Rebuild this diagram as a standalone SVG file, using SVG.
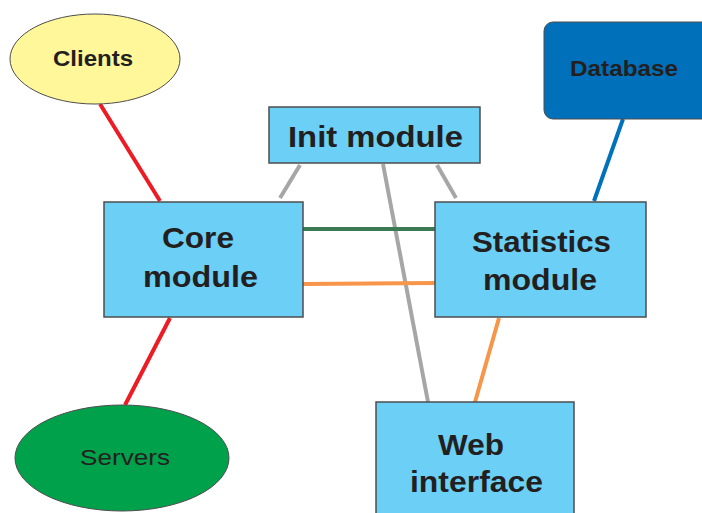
<svg xmlns="http://www.w3.org/2000/svg" width="702" height="513" viewBox="0 0 702 513">
<style>
.box{fill:#6bcff6;stroke:#4d4d4f;stroke-width:1.5}
.t{font-family:"Liberation Sans",Arial,sans-serif;fill:#231f20;text-anchor:middle}
.big{font-size:30px;font-weight:bold}
.sm{font-size:22px}
.c{fill:none;stroke-width:4}
</style>
<rect width="702" height="513" fill="#ffffff"/>
<g id="connectors">
<line class="c" x1="100" y1="104" x2="160" y2="201" stroke="#ed1c24"/>
<line class="c" x1="170" y1="318" x2="125" y2="405" stroke="#ed1c24"/>
<line class="c" x1="300" y1="165" x2="280" y2="198" stroke="#a6a6a6" stroke-width="3"/>
<line class="c" x1="383" y1="164" x2="428" y2="402" stroke="#a6a6a6" stroke-width="3"/>
<line class="c" x1="437" y1="165" x2="456" y2="198" stroke="#a6a6a6" stroke-width="3"/>
<line class="c" x1="303" y1="229" x2="435" y2="229" stroke="#3a7a55"/>
<line class="c" x1="303" y1="284" x2="435" y2="283" stroke="#f7964a"/>
<line class="c" x1="499" y1="318" x2="475" y2="402" stroke="#f7964a"/>
<line class="c" x1="623" y1="119" x2="594" y2="201" stroke="#0072bc"/>
</g>
<g id="clients">
<ellipse cx="95" cy="59" rx="85" ry="45" fill="#fff799" stroke="#4d4d4f" stroke-width="1"/>
<text class="t sm" x="93" y="66" font-weight="bold" textLength="80" lengthAdjust="spacingAndGlyphs">Clients</text>
</g>
<g id="database">
<rect x="544" y="22" width="170" height="97" rx="9" fill="#0070bb" stroke="#4d4d4f" stroke-width="1"/>
<text class="t sm" x="624" y="76" textLength="108" lengthAdjust="spacingAndGlyphs" font-weight="bold" style="font-weight:600">Database</text>
</g>
<g id="init">
<rect class="box" x="269" y="107" width="211" height="56"/>
<text class="t big" x="375.5" y="147" textLength="175" lengthAdjust="spacingAndGlyphs">Init module</text>
</g>
<g id="core">
<rect class="box" x="104" y="202" width="199" height="115"/>
<text class="t big" x="198" y="248" textLength="72" lengthAdjust="spacingAndGlyphs">Core</text>
<text class="t big" x="200.5" y="287" textLength="115" lengthAdjust="spacingAndGlyphs">module</text>
</g>
<g id="statistics">
<rect class="box" x="435" y="202" width="211" height="115"/>
<text class="t big" x="541.5" y="252" textLength="139" lengthAdjust="spacingAndGlyphs">Statistics</text>
<text class="t big" x="540" y="290" textLength="114" lengthAdjust="spacingAndGlyphs">module</text>
</g>
<g id="servers">
<ellipse cx="122" cy="458" rx="107" ry="53" fill="#00a14b" stroke="#4d4d4f" stroke-width="1"/>
<text class="t sm" x="125" y="465" textLength="90" lengthAdjust="spacingAndGlyphs">Servers</text>
</g>
<g id="web">
<rect class="box" x="376" y="402" width="198" height="130"/>
<text class="t big" x="471" y="455" textLength="66" lengthAdjust="spacingAndGlyphs">Web</text>
<text class="t big" x="476.5" y="492" textLength="133" lengthAdjust="spacingAndGlyphs">interface</text>
</g>
</svg>
